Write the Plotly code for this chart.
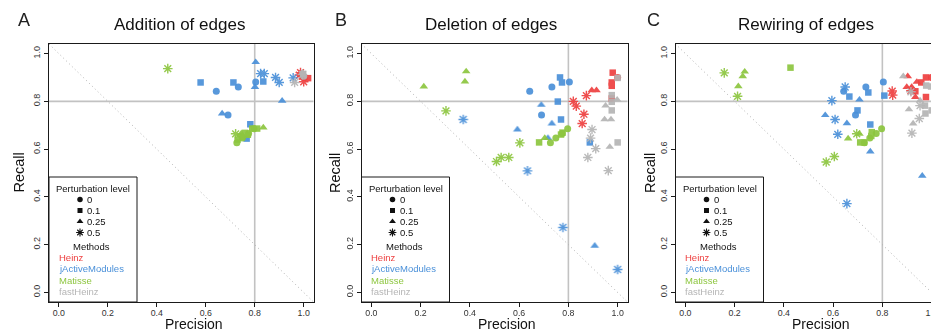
import plotly.graph_objects as go

# ------------------------------------------------------------------ data
methods = ["Heinz", "jActiveModules", "Matisse", "fastHeinz"]
levels = ["0", "0.1", "0.25", "0.5"]
panel_titles = ["Addition of edges", "Deletion of edges", "Rewiring of edges"]
panel_letters = ["A", "B", "C"]
tick_values = [0.0, 0.2, 0.4, 0.6, 0.8, 1.0]
tick_labels = ["0.0", "0.2", "0.4", "0.6", "0.8", "1.0"]

# --- A: addition of edges
add_heinz_prec = [1.0, 1.018, 0.995, 0.99, 1.0, 0.987, 1.0, 0.982]
add_heinz_rec = [0.90, 0.897, 0.905, 0.91, 0.90, 0.92, 0.882, 0.91]
add_heinz_lvl = ["0", "0.1", "0.1", "0.25", "0.25", "0.5", "0.5", "0.5"]

add_jam_prec = [0.643, 0.733, 0.804, 0.691,
                0.579, 0.713, 0.835, 0.782, 0.767,
                0.804, 0.801, 0.912, 0.667,
                0.824, 0.839, 0.885, 0.90, 0.957]
add_jam_rec = [0.842, 0.860, 0.881, 0.743,
               0.879, 0.879, 0.883, 0.704, 0.644,
               0.964, 0.86, 0.802, 0.749,
               0.916, 0.916, 0.90, 0.879, 0.898]
add_jam_lvl = ["0", "0", "0", "0",
               "0.1", "0.1", "0.1", "0.1", "0.1",
               "0.25", "0.25", "0.25", "0.25",
               "0.5", "0.5", "0.5", "0.5", "0.5"]

add_mat_prec = [0.727, 0.749, 0.775, 0.797,
                0.74, 0.76, 0.772, 0.79, 0.81, 0.75, 0.73,
                0.835, 0.745,
                0.445, 0.722]
add_mat_rec = [0.627, 0.646, 0.665, 0.685,
               0.651, 0.668, 0.66, 0.686, 0.686, 0.655, 0.64,
               0.69, 0.665,
               0.937, 0.664]
add_mat_lvl = ["0", "0", "0", "0",
               "0.1", "0.1", "0.1", "0.1", "0.1", "0.1", "0.1",
               "0.25", "0.25",
               "0.5", "0.5"]

add_fh_prec = [1.0, 0.998, 0.995, 0.963, 0.995]
add_fh_rec = [0.905, 0.915, 0.92, 0.879, 0.912]
add_fh_lvl = ["0", "0.1", "0.25", "0.5", "0.5"]

# --- B: deletion of edges
del_heinz_prec = [1.0,
                  0.98, 0.976, 0.976, 0.976,
                  0.895, 0.914,
                  0.873, 0.82, 0.832, 0.863, 0.856]
del_heinz_rec = [0.90,
                 0.92, 0.879, 0.865, 0.812,
                 0.846, 0.846,
                 0.824, 0.80, 0.78, 0.746, 0.707]
del_heinz_lvl = ["0",
                 "0.1", "0.1", "0.1", "0.1",
                 "0.25", "0.25",
                 "0.5", "0.5", "0.5", "0.5", "0.5"]

del_jam_prec = [0.643, 0.733, 0.804, 0.691,
                0.766, 0.774, 0.757, 0.77, 0.887,
                0.69, 0.733, 0.593, 0.717, 0.907,
                0.373, 0.634, 0.778, 1.0]
del_jam_rec = [0.842, 0.860, 0.881, 0.743,
               0.90, 0.879, 0.799, 0.724, 0.628,
               0.785, 0.707, 0.682, 0.646, 0.195,
               0.724, 0.509, 0.272, 0.096]
del_jam_lvl = ["0", "0", "0", "0",
               "0.1", "0.1", "0.1", "0.1", "0.1",
               "0.25", "0.25", "0.25", "0.25", "0.25",
               "0.5", "0.5", "0.5", "0.5"]

del_mat_prec = [0.727, 0.749, 0.775, 0.797,
                0.681, 0.77, 0.776,
                0.385, 0.380, 0.213, 0.704,
                0.303, 0.603, 0.508, 0.527, 0.558]
del_mat_rec = [0.627, 0.646, 0.665, 0.685,
               0.628, 0.661, 0.669,
               0.925, 0.883, 0.862, 0.646,
               0.76, 0.626, 0.548, 0.565, 0.565]
del_mat_lvl = ["0", "0", "0", "0",
               "0.1", "0.1", "0.1",
               "0.25", "0.25", "0.25", "0.25",
               "0.5", "0.5", "0.5", "0.5", "0.5"]

del_fh_prec = [1.0, 0.976, 0.976, 0.976, 1.0,
               0.998, 0.951, 0.947, 0.973, 0.968,
               0.896, 0.89, 0.911, 0.879, 0.962]
del_fh_rec = [0.898, 0.826, 0.798, 0.762, 0.628,
              0.807, 0.782, 0.724, 0.724, 0.609,
              0.682, 0.646, 0.602, 0.565, 0.51]
del_fh_lvl = ["0.1", "0.1", "0.1", "0.1", "0.1",
              "0.25", "0.25", "0.25", "0.25", "0.25",
              "0.5", "0.5", "0.5", "0.5", "0.5"]

# --- C: rewiring of edges
rew_heinz_prec = [1.0,
                  0.977, 0.958, 0.934, 0.977,
                  0.903, 0.94, 0.899, 0.919, 0.934,
                  0.84, 0.842, 0.916]
rew_heinz_rec = [0.90,
                 0.90, 0.879, 0.842, 0.818,
                 0.905, 0.881, 0.86, 0.86, 0.818,
                 0.843, 0.826, 0.845]
rew_heinz_lvl = ["0",
                 "0.1", "0.1", "0.1", "0.1",
                 "0.25", "0.25", "0.25", "0.25", "0.25",
                 "0.5", "0.5", "0.5"]

rew_jam_prec = [0.643, 0.733, 0.804, 0.691,
                0.743, 0.666, 0.808, 0.699, 0.751,
                0.707, 0.568, 0.656, 0.751, 0.962,
                0.649, 0.595, 0.608, 0.619, 0.656]
rew_jam_rec = [0.842, 0.860, 0.881, 0.743,
               0.837, 0.82, 0.824, 0.762, 0.703,
               0.807, 0.742, 0.708, 0.59, 0.488,
               0.86, 0.803, 0.724, 0.662, 0.372]
rew_jam_lvl = ["0", "0", "0", "0",
               "0.1", "0.1", "0.1", "0.1", "0.1",
               "0.25", "0.25", "0.25", "0.25", "0.25",
               "0.5", "0.5", "0.5", "0.5", "0.5"]

rew_mat_prec = [0.727, 0.749, 0.775, 0.797,
                0.427, 0.757, 0.71, 0.725, 0.755,
                0.241, 0.233, 0.215, 0.661, 0.707,
                0.158, 0.212, 0.696, 0.605, 0.572]
rew_mat_rec = [0.627, 0.646, 0.665, 0.685,
               0.941, 0.671, 0.628, 0.628, 0.655,
               0.924, 0.905, 0.863, 0.644, 0.664,
               0.919, 0.821, 0.664, 0.569, 0.546]
rew_mat_lvl = ["0", "0", "0", "0",
               "0.1", "0.1", "0.1", "0.1", "0.1",
               "0.25", "0.25", "0.25", "0.25", "0.25",
               "0.5", "0.5", "0.5", "0.5", "0.5"]

rew_fh_prec = [0.978, 0.998, 0.973, 1.0, 0.975,
               0.885, 0.953, 0.908, 0.925,
               0.916, 0.953, 0.95, 0.92]
rew_fh_rec = [0.866, 0.862, 0.782, 0.762, 0.749,
              0.905, 0.803, 0.766, 0.707,
              0.84, 0.782, 0.728, 0.667]
rew_fh_lvl = ["0.1", "0.1", "0.1", "0.1", "0.1",
              "0.25", "0.25", "0.25", "0.25",
              "0.5", "0.5", "0.5", "0.5"]

panels_data = [
    [(add_heinz_prec, add_heinz_rec, add_heinz_lvl),
     (add_jam_prec, add_jam_rec, add_jam_lvl),
     (add_mat_prec, add_mat_rec, add_mat_lvl),
     (add_fh_prec, add_fh_rec, add_fh_lvl)],
    [(del_heinz_prec, del_heinz_rec, del_heinz_lvl),
     (del_jam_prec, del_jam_rec, del_jam_lvl),
     (del_mat_prec, del_mat_rec, del_mat_lvl),
     (del_fh_prec, del_fh_rec, del_fh_lvl)],
    [(rew_heinz_prec, rew_heinz_rec, rew_heinz_lvl),
     (rew_jam_prec, rew_jam_rec, rew_jam_lvl),
     (rew_mat_prec, rew_mat_rec, rew_mat_lvl),
     (rew_fh_prec, rew_fh_rec, rew_fh_lvl)],
]

# ------------------------------------------------------------------ style
# The page body has an 8px margin, so the figure is drawn 8px smaller and
# every screen position below is shifted by OFF to land where intended.
OFF = 8
W, H = 939 - OFF, 333 - OFF
FONT = "Liberation Sans, Arial, sans-serif"
method_colors = {"Heinz": "#EE4040", "jActiveModules": "#4A90D9",
                 "Matisse": "#8DC63F", "fastHeinz": "#B5B5B5"}
level_symbols = {"0": "circle", "0.1": "square", "0.25": "triangle-up", "0.5": "asterisk-open"}
level_sizes = {"0": 7, "0.1": 6.5, "0.25": 7.5, "0.5": 8}

# panel box geometry in screen pixels (left, right) and x-ranges
box_left = [49, 361.5, 675.5]
box_right = [313.5, 627.5, 939]
x_ranges = [[-0.04, 1.04], [-0.04, 1.04], [-0.04, 1.03]]
box_top, box_bottom = 44, 302
y_range = [-0.04, 1.04]

def pxx(px):
    return (px - OFF) / W

def pxy(py):
    return 1 - (py - OFF) / H

def data_x(i, px):
    r = x_ranges[i]
    return r[0] + (px - box_left[i]) / (box_right[i] - box_left[i]) * (r[1] - r[0])

def data_y(py):
    return y_range[1] - (py - box_top) / (box_bottom - box_top) * (y_range[1] - y_range[0])

fig = go.Figure()
shapes = []
annotations = []

for i in range(3):
    xa = "x" if i == 0 else f"x{i+1}"
    ya = "y" if i == 0 else f"y{i+1}"
    xkey = "xaxis" if i == 0 else f"xaxis{i+1}"
    ykey = "yaxis" if i == 0 else f"yaxis{i+1}"

    fig.layout[xkey] = dict(
        domain=[pxx(box_left[i]), min(1.0, pxx(box_right[i]))], range=x_ranges[i], anchor=ya,
        showgrid=False, zeroline=False, showline=True, mirror=True,
        linecolor="#1a1a1a", linewidth=1, ticks="outside", ticklen=4, tickwidth=1,
        tickcolor="#1a1a1a", tickvals=tick_values, ticktext=tick_labels,
        ticklabelstandoff=-2,
        tickfont=dict(family=FONT, size=8.8, color="#333"), fixedrange=True)
    fig.layout[ykey] = dict(
        domain=[pxy(box_bottom), pxy(box_top)], range=y_range, anchor=xa,
        showgrid=False, zeroline=False, showline=True, mirror=(i < 2),
        linecolor="#1a1a1a", linewidth=1, ticks="outside", ticklen=4, tickwidth=1,
        tickcolor="#1a1a1a", tickvals=tick_values, ticktext=tick_labels, tickangle=-90,
        tickfont=dict(family=FONT, size=9, color="#333"), fixedrange=True)

    # reference lines
    shapes.append(dict(type="line", xref=xa, yref=f"{ya} domain", x0=0.8, x1=0.8, y0=0, y1=1,
                       line=dict(color="#C2C2C2", width=1.6), layer="below"))
    shapes.append(dict(type="line", xref=f"{xa} domain", yref=ya, x0=0, x1=1, y0=0.8, y1=0.8,
                       line=dict(color="#C2C2C2", width=1.6), layer="below"))
    xe = x_ranges[i][1]
    shapes.append(dict(type="line", xref=xa, yref=ya, x0=-0.04, y0=1.04, x1=xe, y1=1 - xe,
                       line=dict(color="#B0B0B0", width=1, dash="1px,3px"), layer="below"))

    # data points
    for m, (prec, rec, lvl) in zip(methods, panels_data[i]):
        for lv in levels:
            xs = [p for p, l in zip(prec, lvl) if l == lv]
            ys = [r for r, l in zip(rec, lvl) if l == lv]
            if not xs:
                continue
            fig.add_trace(go.Scatter(
                x=xs, y=ys, mode="markers", xaxis=xa, yaxis=ya, showlegend=False,
                opacity=0.92,
                marker=dict(symbol=level_symbols[lv], size=level_sizes[lv],
                            color=method_colors[m],
                            line=dict(color=method_colors[m], width=1.4 if lv == "0.5" else 0))))

    # legend box
    bx = box_left[i]
    shapes.append(dict(type="rect", xref="paper", yref="paper",
                       x0=pxx(bx), x1=pxx(bx + 88), y0=pxy(box_bottom), y1=pxy(177),
                       line=dict(color="#1a1a1a", width=1), fillcolor="white", layer="below"))
    annotations.append(dict(text="Perturbation level", x=pxx(bx + 44), y=pxy(188),
                            xref="paper", yref="paper", showarrow=False, xanchor="center",
                            yanchor="middle", font=dict(family=FONT, size=9.5, color="#111")))
    key_y = [199.5, 210.5, 221.5, 232.5]
    for lv, ky in zip(levels, key_y):
        fig.add_trace(go.Scatter(
            x=[data_x(i, bx + 31)], y=[data_y(ky)], mode="markers", xaxis=xa, yaxis=ya,
            showlegend=False, hoverinfo="skip",
            marker=dict(symbol=level_symbols[lv], size=level_sizes[lv] - 1.5, color="#111",
                        line=dict(color="#111", width=1.1 if lv == "0.5" else 0))))
        annotations.append(dict(text=lv, x=pxx(bx + 36), y=pxy(ky), xref="paper", yref="paper",
                                showarrow=False, xanchor="left", yanchor="middle",
                                font=dict(family=FONT, size=9.5, color="#111")))
    annotations.append(dict(text="Methods", x=pxx(bx + 42.5), y=pxy(246.5), xref="paper",
                            yref="paper", showarrow=False, xanchor="center", yanchor="middle",
                            font=dict(family=FONT, size=9.5, color="#111")))
    for m, my in zip(methods, [257, 268.5, 280, 291]):
        annotations.append(dict(text=m, x=pxx(bx + 7.5), y=pxy(my), xref="paper", yref="paper",
                                showarrow=False, xanchor="left", yanchor="middle",
                                font=dict(family=FONT, size=9.5, color=method_colors[m])))

    # titles, letters and axis titles
    annotations.append(dict(text=panel_titles[i], x=pxx(box_left[i] + 130),
                            y=pxy(25), xref="paper", yref="paper", showarrow=False,
                            xanchor="center", yanchor="middle",
                            font=dict(family=FONT, size=17, color="#111")))
    annotations.append(dict(text=panel_letters[i], x=pxx([24, 340.5, 653][i]), y=pxy(20.5),
                            xref="paper", yref="paper", showarrow=False, xanchor="center",
                            yanchor="middle", font=dict(family=FONT, size=18, color="#222")))
    annotations.append(dict(text="Precision", x=0.55, y=0, xref=xa, yref="paper",
                            showarrow=False, xanchor="center", yanchor="bottom", borderpad=0,
                            font=dict(family=FONT, size=14, color="#111")))
    annotations.append(dict(text="Recall", x=pxx([18.5, 335, 650][i]), y=pxy(173), xref="paper",
                            yref="paper", showarrow=False, xanchor="center", yanchor="middle",
                            textangle=-90, font=dict(family=FONT, size=14.5, color="#111")))

fig.update_layout(
    width=W, height=H, margin=dict(l=0, r=0, t=0, b=0),
    paper_bgcolor="white", plot_bgcolor="white",
    shapes=shapes, annotations=annotations, showlegend=False,
    font=dict(family=FONT),
)

fig.write_html("out.html", config={"displayModeBar": False})
